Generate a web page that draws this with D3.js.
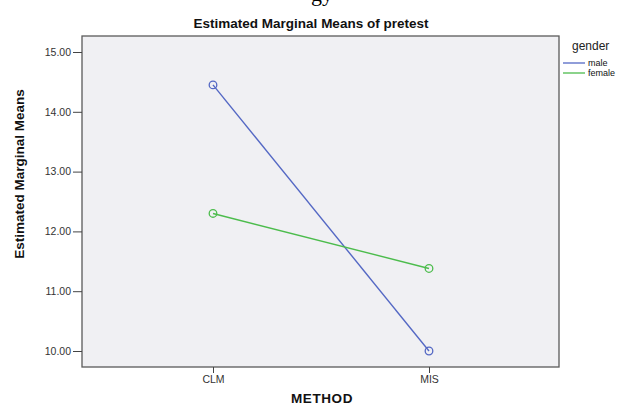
<!DOCTYPE html>
<html>
<head>
<meta charset="utf-8">
<script src="https://cdn.jsdelivr.net/npm/d3@7"></script>
<style>
  body { margin: 0; background: #fff; }
  text { font-family: "Liberation Sans", Arial, sans-serif; }
</style>
</head>
<body>
<div id="chart"></div>
<script>
// data
var methods = ['CLM', 'MIS'];
var genders = ['male', 'female'];
var maleMeans = [14.45, 10.00];
var femaleMeans = [12.30, 11.38];
var yTicks = [10, 11, 12, 13, 14, 15];

var width = 626, height = 405;
var svg = d3.select('#chart').append('svg')
  .attr('width', width).attr('height', height);

// frame box
var fx0 = 82, fx1 = 559, fy0 = 36, fy1 = 367;

var y = d3.scaleLinear().domain([10, 15]).range([351, 52]);
var x = d3.scalePoint().domain(methods).range([213, 429]);

// cut-off line of text from the page above (only descenders show)
svg.append('text')
  .attr('x', 333).attr('y', 1)
  .attr('text-anchor', 'end')
  .style('font-family', '"Liberation Serif", serif')
  .style('font-size', '22px')
  .text('gy');

svg.append('rect')
  .attr('x', fx0).attr('y', fy0)
  .attr('width', fx1 - fx0).attr('height', fy1 - fy0)
  .attr('fill', '#f0f0f3')
  .attr('stroke', '#5a5a5a')
  .attr('stroke-width', 1.3);

// y axis
var yAxis = d3.axisLeft(y).tickValues(yTicks).tickSize(9).tickPadding(2)
  .tickFormat(d3.format('.2f'));
var gy = svg.append('g').attr('transform', 'translate(' + fx0 + ',0)').call(yAxis);
gy.select('.domain').remove();
gy.selectAll('line').attr('stroke', '#444');
gy.selectAll('text').style('font-size', '10.5px').attr('fill', '#333');

// x axis
var xAxis = d3.axisBottom(x).tickSize(6).tickPadding(3);
var gx = svg.append('g').attr('transform', 'translate(0,' + fy1 + ')').call(xAxis);
gx.select('.domain').remove();
gx.selectAll('line').attr('stroke', '#444');
gx.selectAll('text').style('font-size', '10.5px').attr('fill', '#333');

// lines
var colors = {male: '#5468c4', female: '#4cbc4c'};
var series = [
  {name: 'male', values: maleMeans},
  {name: 'female', values: femaleMeans}
];
var line = d3.line()
  .x(function(d, i) { return x(methods[i]); })
  .y(function(d) { return y(d); });

series.forEach(function(s) {
  svg.append('path')
    .datum(s.values)
    .attr('d', line)
    .attr('fill', 'none')
    .attr('stroke', colors[s.name])
    .attr('stroke-width', 1.4);
  svg.selectAll(null)
    .data(s.values)
    .enter()
    .append('circle')
    .attr('cx', function(d, i) { return x(methods[i]); })
    .attr('cy', function(d) { return y(d); })
    .attr('r', 3.8)
    .attr('fill', 'none')
    .attr('stroke', colors[s.name])
    .attr('stroke-width', 1.3);
});

// titles
svg.append('text')
  .attr('x', 311).attr('y', 28)
  .attr('text-anchor', 'middle')
  .style('font-size', '13.5px').style('font-weight', 'bold')
  .attr('fill', '#111')
  .text('Estimated Marginal Means of pretest');

svg.append('text')
  .attr('x', 322).attr('y', 403)
  .attr('text-anchor', 'middle')
  .style('font-size', '13.5px').style('font-weight', 'bold')
  .style('letter-spacing', '0.6px')
  .attr('fill', '#111')
  .text('METHOD');

svg.append('text')
  .attr('transform', 'translate(24,174) rotate(-90)')
  .attr('text-anchor', 'middle')
  .style('font-family', '"Liberation Sans Narrow", "Liberation Sans", sans-serif')
  .style('font-size', '13.5px').style('font-weight', 'bold')
  .attr('fill', '#111')
  .text('Estimated Marginal Means');

// legend
svg.append('text')
  .attr('x', 572).attr('y', 50)
  .style('font-size', '12px')
  .attr('fill', '#222')
  .text('gender');

var lg = svg.selectAll('.legend')
  .data(genders)
  .enter()
  .append('g')
  .attr('class', 'legend')
  .attr('transform', function(d, i) { return 'translate(563,' + (63 + i * 10) + ')'; });
lg.append('line')
  .attr('x1', 0).attr('x2', 22)
  .attr('stroke', function(d) { return colors[d]; })
  .attr('stroke-width', 1.3);
lg.append('text')
  .attr('x', 25).attr('y', 3)
  .style('font-size', '9px')
  .attr('fill', '#111')
  .text(function(d) { return d; });
</script>
</body>
</html>
